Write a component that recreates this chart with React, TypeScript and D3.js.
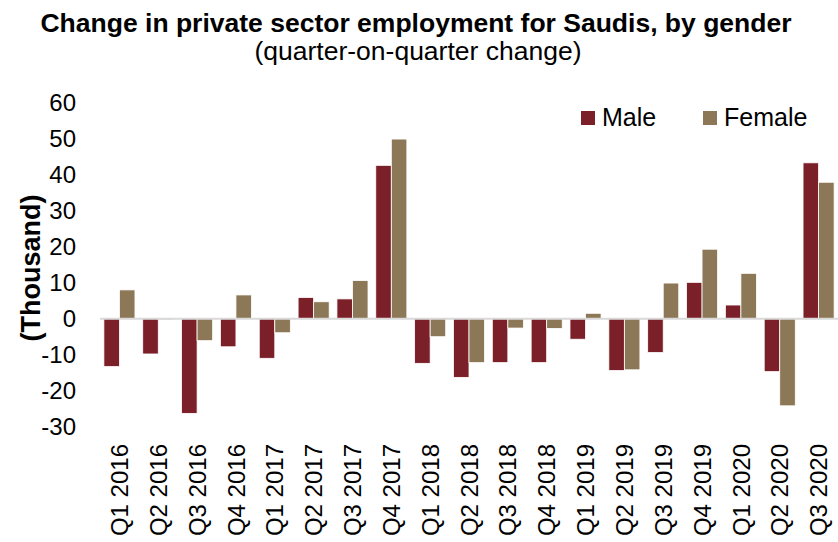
import React from "react";
import * as d3 from "d3";

const categories = [
  "Q1 2016","Q2 2016","Q3 2016","Q4 2016",
  "Q1 2017","Q2 2017","Q3 2017","Q4 2017",
  "Q1 2018","Q2 2018","Q3 2018","Q4 2018",
  "Q1 2019","Q2 2019","Q3 2019","Q4 2019",
  "Q1 2020","Q2 2020","Q3 2020",
];
const maleValues = [-13.3, -9.8, -26.3, -7.8, -11.0, 5.9, 5.5, 42.6, -12.4, -16.3, -12.2, -12.2, -5.7, -14.4, -9.4, 10.1, 3.8, -14.7, 43.3];
const femaleValues = [8.0, -0.3, -6.1, 6.6, -3.9, 4.7, 10.6, 49.9, -5.0, -12.2, -2.6, -2.7, 1.5, -14.2, 9.9, 19.3, 12.6, -24.2, 37.9];
const yTicks = [-30, -20, -10, 0, 10, 20, 30, 40, 50, 60];
const seriesNames = ["Male", "Female"];
const seriesColors = ["#7B2029", "#8C7756"];

const W = 838;
const H = 542;
const FONT = "'Liberation Sans', Arial, sans-serif";

export default function App() {
  const x = d3.scaleBand<string>().domain(categories).range([100, 838]).paddingInner(0.2).paddingOuter(0.1);
  const inner = d3.scaleBand<string>().domain(seriesNames).range([0, x.bandwidth()]);
  const y = d3.scaleLinear().domain([-30, 60]).range([426.7, 102.7]);
  const series = [maleValues, femaleValues];

  return (
    <svg width={W} height={H} style={{ position: "absolute", left: 0, top: 0, background: "#fff" }} fontFamily={FONT}>
      <text x={416} y={31.5} textAnchor="middle" fontSize={26.5} fontWeight="bold" fill="#000">
        Change in private sector employment for Saudis, by gender
      </text>
      <text x={418} y={60} textAnchor="middle" fontSize={26.5} fill="#000">
        (quarter-on-quarter change)
      </text>

      {yTicks.map((t) => (
        <text key={t} x={76} y={y(t)} dy="0.36em" textAnchor="end" fontSize={24} fill="#000">
          {t}
        </text>
      ))}
      <text transform={`translate(40,268) rotate(-90)`} textAnchor="middle" fontSize={27} fontWeight="bold" fill="#000">
        (Thousand)
      </text>

      {series.map((vals, si) =>
        vals.map((v, i) => {
          const x0 = (x(categories[i]) ?? 0) + (inner(seriesNames[si]) ?? 0);
          const y0 = y(Math.max(0, v));
          const h = Math.abs(y(v) - y(0));
          return (
            <rect key={`${si}-${i}`} x={x0} y={y0} width={inner.bandwidth()} height={h}
              fill={seriesColors[si]} stroke="#ffffff" strokeWidth={0.8} />
          );
        })
      )}
      <line x1={100} x2={838} y1={y(0)} y2={y(0)} stroke="#d9d9d9" strokeWidth={2} />

      {categories.map((c) => {
        const cx = (x(c) ?? 0) + x.bandwidth() / 2;
        return (
          <text key={c} transform={`translate(${cx},444) rotate(-90)`} dy="0.36em" textAnchor="end" fontSize={24} fill="#000">
            {c}
          </text>
        );
      })}

      {seriesNames.map((n, i) => {
        const lx = [581, 703][i];
        return (
          <g key={n}>
            <rect x={lx} y={111} width={14} height={14} fill={seriesColors[i]} />
            <text x={lx + 21} y={126} fontSize={25} fill="#000">{n}</text>
          </g>
        );
      })}
    </svg>
  );
}
